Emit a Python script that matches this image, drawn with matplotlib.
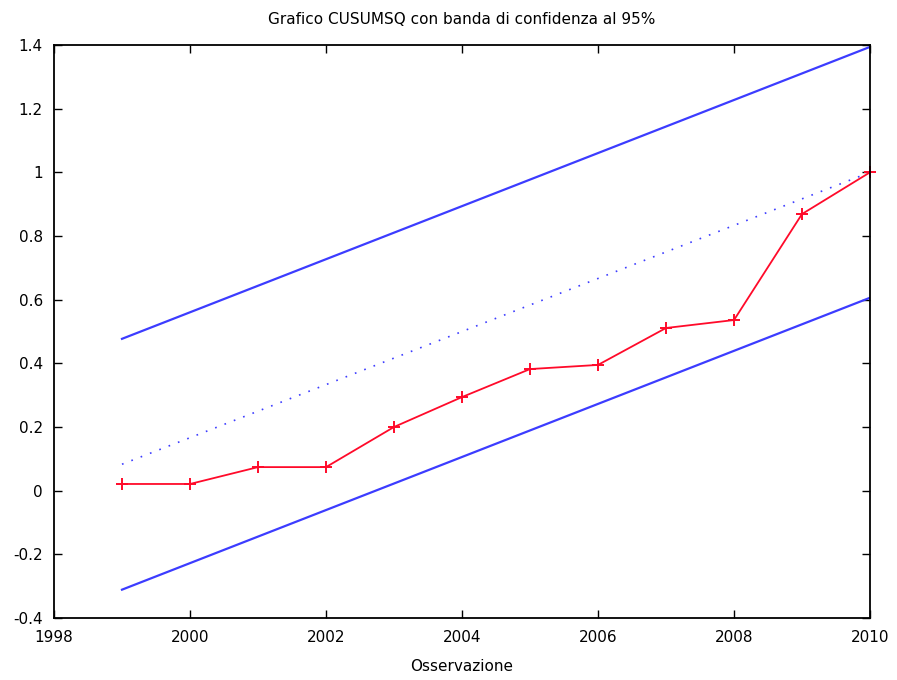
import matplotlib
matplotlib.use("Agg")
import matplotlib.pyplot as plt
import numpy as np

# CUSUMSQ series, 1999-2010
anni = [1999, 2000, 2001, 2002, 2003, 2004, 2005, 2006, 2007, 2008, 2009, 2010]
cusumsq = [0.021, 0.021, 0.074, 0.074, 0.200, 0.294, 0.382, 0.395, 0.511, 0.536, 0.869, 1.0]

# expected path and 95% band (end points)
estremi = [1999, 2010]
atteso = [0.083, 1.0]
banda_sup = [0.477, 1.394]
banda_inf = [-0.311, 0.606]

xticks = [1998, 2000, 2002, 2004, 2006, 2008, 2010]
yticks = [-0.4, -0.2, 0, 0.2, 0.4, 0.6, 0.8, 1.0, 1.2, 1.4]
ylabels = ["-0.4", "-0.2", "0", "0.2", "0.4", "0.6", "0.8", "1", "1.2", "1.4"]

blu = "#3c3cff"
rosso = "#ff0a2a"

fig = plt.figure(figsize=(8.97, 6.8), dpi=100)
ax = fig.add_axes([54/897, 1-618/680, (870-54)/897, (618-45)/680])

ax.plot(estremi, banda_sup, color=blu, lw=1.6)
ax.plot(estremi, banda_inf, color=blu, lw=1.6)
ax.plot(estremi, atteso, color=blu, lw=1.2, linestyle=(0, (1, 5)))
ax.plot(anni, cusumsq, color=rosso, lw=1.3, marker="+", markersize=9,
        markeredgewidth=1.4, clip_on=False)

ax.set_xlim(1998, 2010)
ax.set_ylim(-0.4, 1.4)
ax.set_xticks(xticks)
ax.set_yticks(yticks)
ax.set_yticklabels(ylabels)

for s in ax.spines.values():
    s.set_linewidth(1.3)
ax.tick_params(direction="in", length=6, width=1, top=True, right=True,
               labelsize=11, pad=9)
ax.tick_params(axis="y", pad=8)

ax.set_title("Grafico CUSUMSQ con banda di confidenza al 95%", fontsize=11, pad=15)
ax.set_xlabel("Osservazione", fontsize=11, labelpad=10)

fig.savefig("out.png", dpi=100)
